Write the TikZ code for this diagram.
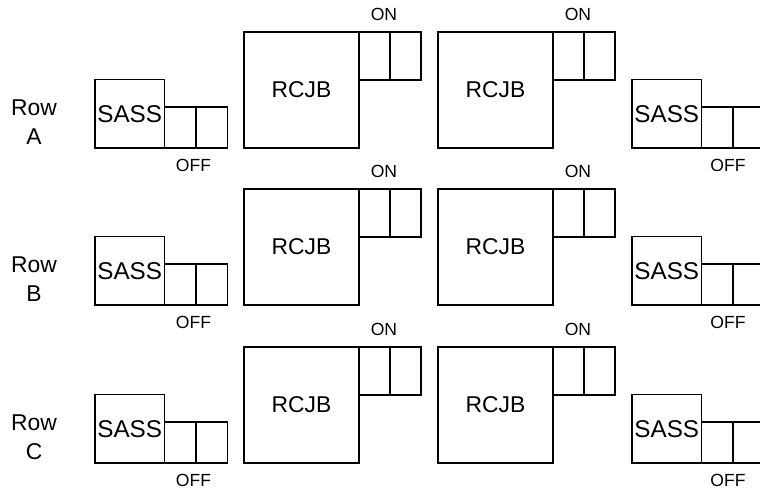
\documentclass[tikz,border=0pt]{standalone}
\usepackage{fontspec}
\setmainfont{Liberation Sans}
\usetikzlibrary{positioning}

\begin{document}
\begin{tikzpicture}[
  x=0.02cm, y=-0.02cm,
  sass/.style={
    rectangle, draw, line width=1.1pt, inner sep=0pt, outer sep=0pt,
    minimum width=1.39cm, minimum height=1.37cm,
    anchor=south west, font=\fontsize{13.8}{15}\selectfont
  },
  rcjb/.style={
    rectangle, draw, line width=1.1pt, inner sep=0pt, outer sep=0pt,
    minimum width=2.3cm, minimum height=2.32cm,
    anchor=south west, font=\fontsize{13}{15}\selectfont
  },
  offcell/.style={
    rectangle, draw, line width=1.1pt, inner sep=0pt, outer sep=0pt,
    minimum width=0.63cm, minimum height=0.82cm, anchor=south west
  },
  oncell/.style={
    rectangle, draw, line width=1.1pt, inner sep=0pt, outer sep=0pt,
    minimum width=0.62cm, minimum height=0.96cm, anchor=north west
  },
  tag/.style={inner sep=0pt, font=\fontsize{10}{12}\selectfont},
  rowlbl/.style={align=center, inner sep=0pt, font=\fontsize{13}{16.5}\selectfont}
]
\useasboundingbox (0,0) rectangle (760,489);

\foreach \r/\o in {A/0, B/157, C/315} {
  % Row label
  \node[rowlbl] (row\r) at (34,122+\o) {Row\\\r};

  % SASS (left) with OFF switch
  \node[sass] (sassL\r) at (95,148+\o) {SASS};
  \node[offcell] (offL\r1) at (sassL\r.south east) {};
  \node[offcell] (offL\r2) at (offL\r1.south east) {};
  \node[tag, below=0.22cm of offL\r1.south east, xshift=-0.05cm] (offlblL\r) {OFF};

  % RCJB with ON switch
  \node[rcjb] (rcjbL\r) at (244,148+\o) {RCJB};
  \node[oncell] (onL\r1) at (rcjbL\r.north east) {};
  \node[oncell] (onL\r2) at (onL\r1.north east) {};
  \node[tag, above=0.22cm of onL\r1.north east, xshift=-0.12cm] (onlblL\r) {ON};

  \node[rcjb] (rcjbR\r) at (438,148+\o) {RCJB};
  \node[oncell] (onR\r1) at (rcjbR\r.north east) {};
  \node[oncell] (onR\r2) at (onR\r1.north east) {};
  \node[tag, above=0.22cm of onR\r1.north east, xshift=-0.12cm] (onlblR\r) {ON};

  % SASS (right) with OFF switch
  \node[sass] (sassR\r) at (632,148+\o) {SASS};
  \node[offcell] (offR\r1) at (sassR\r.south east) {};
  \node[offcell] (offR\r2) at (offR\r1.south east) {};
  \node[tag, below=0.22cm of offR\r1.south east, xshift=-0.1cm] (offlblR\r) {OFF};
}

\end{tikzpicture}
\end{document}
